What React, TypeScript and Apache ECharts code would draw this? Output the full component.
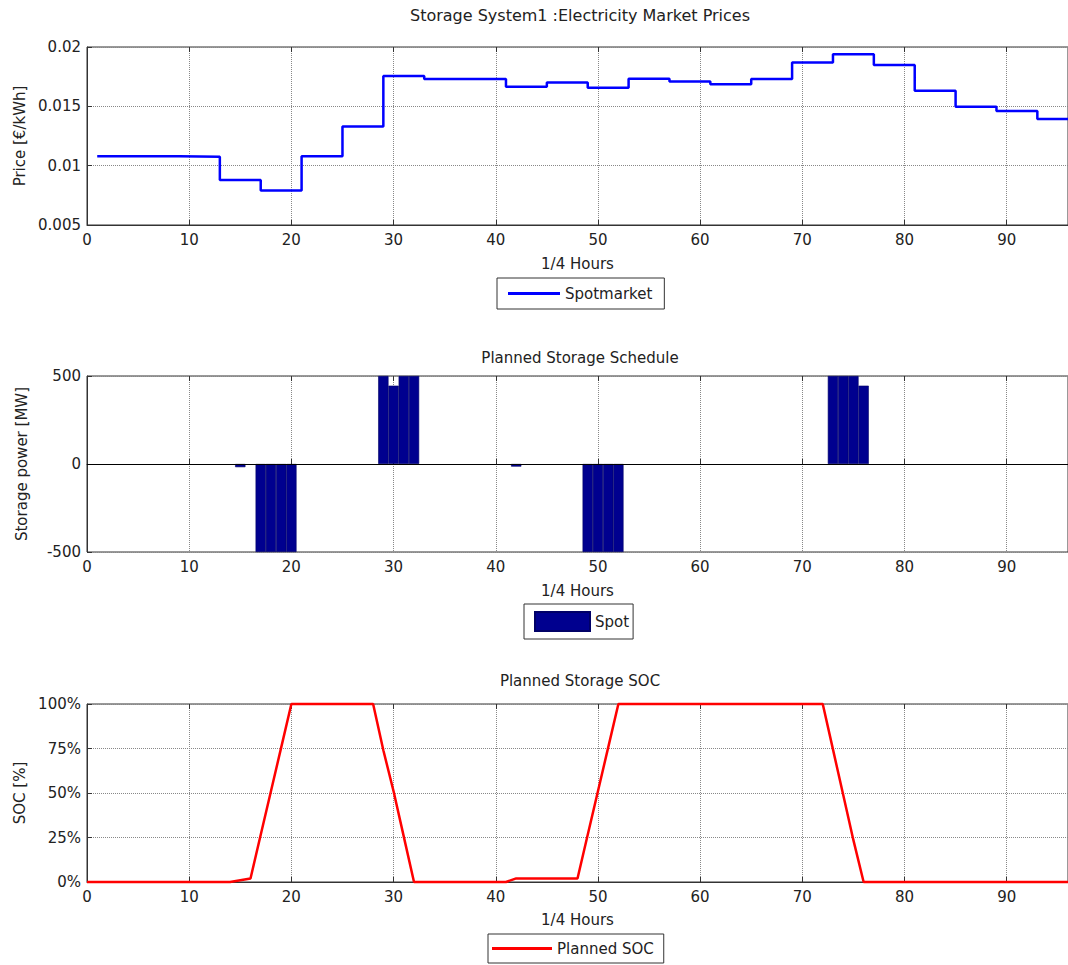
import React, { useEffect, useRef } from "react";
import * as echarts from "echarts";

// ---------- data ----------
const chartTitles = [
  "Storage System1 :Electricity Market Prices",
  "Planned Storage Schedule",
  "Planned Storage SOC",
];
const yAxisNames = ["Price [€/kWh]", "Storage power [MW]", "SOC [%]"];
const xAxisName = "1/4 Hours";
const legendNames = ["Spotmarket", "Spot", "Planned SOC"];

// hourly spot prices (each holds for 4 quarter hours, starting at quarter 1)
const hourlyPrices = [
  0.0108, 0.0108, 0.01075, 0.0088, 0.0079, 0.0108, 0.0133, 0.01755,
  0.0173, 0.0173, 0.01665, 0.017, 0.01657, 0.01733, 0.0171, 0.01686,
  0.0173, 0.0187, 0.01938, 0.01848, 0.01632, 0.01497, 0.0146, 0.01393,
];
const lastQuarter = 96;

// planned storage schedule (non-zero quarter hours only)
const scheduleQuarters = [15, 17, 18, 19, 20, 29, 30, 31, 32, 42, 49, 50, 51, 52, 73, 74, 75, 76];
const schedulePower = [-18, -500, -500, -500, -500, 500, 445, 500, 500, -15, -500, -500, -500, -500, 500, 500, 500, 445];

// planned SOC in % for quarter hours 0..96
const socPercent = [
  0, 0, 0, 0, 0, 0, 0, 0, 0, 0, // 0-9
  0, 0, 0, 0, 0, 1, 2, 26.5, 51, 75.5, // 10-19
  100, 100, 100, 100, 100, 100, 100, 100, 100, 74, // 20-29
  51, 25.5, 0, 0, 0, 0, 0, 0, 0, 0, // 30-39
  0, 0, 2, 2, 2, 2, 2, 2, 2, 26.5, // 40-49
  51, 75.5, 100, 100, 100, 100, 100, 100, 100, 100, // 50-59
  100, 100, 100, 100, 100, 100, 100, 100, 100, 100, // 60-69
  100, 100, 100, 74.5, 49, 23.5, 0, 0, 0, 0, // 70-79
  0, 0, 0, 0, 0, 0, 0, 0, 0, 0, // 80-89
  0, 0, 0, 0, 0, 0, 0, // 90-96
];

const socTickValues = [0, 25, 50, 75, 100];

// ---------- styling ----------
const FONT = "DejaVu Sans";
const TEXT = "#222";
const FS = 15;

export default function App() {
  const ref = useRef<HTMLDivElement>(null);

  useEffect(() => {
    if (!ref.current) return;
    const chart = echarts.init(ref.current, undefined, { renderer: "svg" });

    const priceData: [number, number][] = hourlyPrices.map((p, h) => [1 + 4 * h, p]);
    priceData.push([lastQuarter, hourlyPrices[hourlyPrices.length - 1]]);
    const scheduleData = scheduleQuarters.map((q, i) => [q, schedulePower[i]]);
    const socData = socPercent.map((v, i) => [i, v]);

    const grids = [
      { left: 87, top: 47, width: 986, height: 178 },
      { left: 87, top: 376, width: 986, height: 176 },
      { left: 87, top: 704, width: 986, height: 178 },
    ];

    const splitLine = { show: true, lineStyle: { type: "dotted", color: "#888", width: 1 } };
    const axisLabelStyle = { fontFamily: FONT, fontSize: FS, color: TEXT };

    const xNameGaps = [31, 31, 30];
    const xAxes: any[] = [];
    grids.forEach((_, i) => {
      xAxes.push({
        type: "value",
        gridIndex: i,
        min: 0,
        max: 96,
        interval: 10,
        position: "bottom",
        name: xAxisName,
        nameLocation: "middle",
        nameGap: xNameGaps[i],
        nameTextStyle: { fontFamily: FONT, fontSize: FS, color: TEXT },
        axisLine: { show: true, lineStyle: { color: "#333" } },
        axisTick: { show: true, inside: true, length: 5, lineStyle: { color: "#333" } },
        axisLabel: { ...axisLabelStyle, margin: 7, showMaxLabel: false },
        splitLine,
      });
    });
    grids.forEach((_, i) => {
      xAxes.push({
        type: "value",
        gridIndex: i,
        min: 0,
        max: 96,
        interval: 10,
        position: "top",
        axisLine: { show: false },
        axisTick: { show: true, inside: true, length: 5, lineStyle: { color: "#333" } },
        axisLabel: { show: false },
        splitLine: { show: false },
      });
    });

    const yCommon = (i: number) => ({
      type: "value",
      gridIndex: i,
      name: yAxisNames[i],
      nameLocation: "middle",
      nameGap: 58,
      nameTextStyle: { fontFamily: FONT, fontSize: FS, color: TEXT },
      axisLine: { show: true, lineStyle: { color: "#333" } },
      axisTick: { show: true, inside: true, length: 5, lineStyle: { color: "#333" } },
      splitLine,
    });

    const yAxes = [
      {
        ...yCommon(0),
        min: 0.005,
        max: 0.02,
        interval: 0.005,
        axisLabel: { ...axisLabelStyle, margin: 6, formatter: (v: number) => String(+v.toFixed(3)) },
      },
      {
        ...yCommon(1),
        min: -500,
        max: 500,
        interval: 500,
        axisLabel: { ...axisLabelStyle, margin: 6 },
      },
      {
        ...yCommon(2),
        min: socTickValues[0],
        max: socTickValues[socTickValues.length - 1],
        interval: 25,
        axisLabel: { ...axisLabelStyle, margin: 6, formatter: (v: number) => v + "%" },
      },
    ];

    const legendCommon = {
      orient: "horizontal",
      borderColor: "#333",
      borderWidth: 1,
      borderRadius: 0,
      backgroundColor: "#fff",
      selectedMode: false,
      textStyle: { fontFamily: FONT, fontSize: FS, color: TEXT },
    };

    const option: any = {
      animation: false,
      backgroundColor: "#fff",
      grid: grids.map((g) => ({ ...g, show: true, borderColor: "#333", borderWidth: 1, backgroundColor: "#fff" })),
      xAxis: xAxes,
      yAxis: yAxes,
      legend: [
        {
          ...legendCommon,
          data: [{ name: legendNames[0], icon: "rect" }],
          left: 497,
          top: 278,
          padding: [8, 12, 8, 11],
          itemWidth: 52,
          itemHeight: 3,
        },
        {
          ...legendCommon,
          data: [{ name: legendNames[1], icon: "rect" }],
          left: 524,
          top: 604,
          padding: [7, 4, 7, 10],
          itemWidth: 55,
          itemHeight: 19,
        },
        {
          ...legendCommon,
          data: [{ name: legendNames[2], icon: "rect" }],
          left: 488,
          top: 934,
          padding: [7, 10, 7, 4],
          itemWidth: 60,
          itemHeight: 3,
        },
      ],
      graphic: [
        { type: "text", x: 580, y: 15, style: { text: chartTitles[0], fontFamily: FONT, fontSize: 16, fill: TEXT, align: "center", verticalAlign: "middle" } },
        { type: "text", x: 580, y: 358, style: { text: chartTitles[1], fontFamily: FONT, fontSize: FS, fill: TEXT, align: "center", verticalAlign: "middle" } },
        { type: "text", x: 580, y: 681, style: { text: chartTitles[2], fontFamily: FONT, fontSize: FS, fill: TEXT, align: "center", verticalAlign: "middle" } },
      ],
      series: [
        {
          name: legendNames[0],
          type: "line",
          xAxisIndex: 0,
          yAxisIndex: 0,
          step: "end",
          symbol: "none",
          clip: false,
          data: priceData,
          lineStyle: { color: "#0000ff", width: 2.5 },
          itemStyle: { color: "#0000ff" },
        },
        {
          name: legendNames[1],
          type: "bar",
          xAxisIndex: 1,
          yAxisIndex: 1,
          barWidth: 10.3,
          data: scheduleData,
          itemStyle: { color: "#00008f", borderColor: "#000066", borderWidth: 0.6 },
          markLine: {
            silent: true,
            symbol: "none",
            label: { show: false },
            lineStyle: { color: "#000", type: "solid", width: 1 },
            data: [{ yAxis: 0 }],
          },
        },
        {
          name: legendNames[2],
          type: "line",
          xAxisIndex: 2,
          yAxisIndex: 2,
          symbol: "none",
          clip: false,
          data: socData,
          lineStyle: { color: "#ff0000", width: 2.5 },
          itemStyle: { color: "#ff0000" },
        },
      ],
    };

    chart.setOption(option);
    return () => chart.dispose();
  }, []);

  return (
    <div
      ref={ref}
      style={{ position: "fixed", left: 0, top: 0, width: 1068, height: 965, background: "#fff" }}
    />
  );
}
